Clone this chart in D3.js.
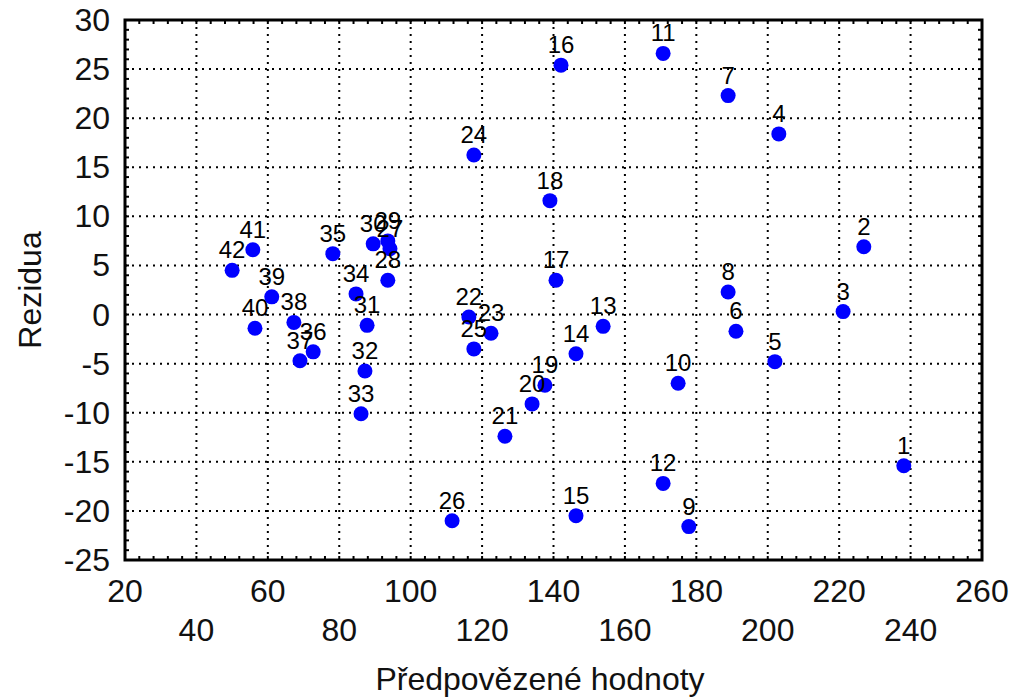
<!DOCTYPE html>
<html><head><meta charset="utf-8">
<script src="https://cdn.jsdelivr.net/npm/d3@7/dist/d3.min.js"></script>
<style>body{margin:0;background:#fff}svg{display:block}text{font-family:"Liberation Sans",Arial,sans-serif}</style>
</head><body><svg id="c" width="1012" height="699"></svg>
<script>
const ids = [1,2,3,4,5,6,7,8,9,10,11,12,13,14,15,16,17,18,19,20,21,22,23,24,25,26,27,28,29,30,31,32,33,34,35,36,37,38,39,40,41,42];
const predicted = [238.1,226.9,221.1,203.1,202.0,191.1,188.9,188.9,177.9,174.9,170.7,170.7,153.9,146.3,146.3,142.1,140.7,139.0,137.6,134.0,126.4,116.3,122.5,117.7,117.7,111.6,94.2,93.6,93.6,89.5,87.8,87.2,86.1,84.7,78.2,72.7,69.0,67.3,61.1,56.4,55.8,50.0];
const residuals = [-15.4,6.9,0.3,18.4,-4.8,-1.7,22.3,2.3,-21.6,-7.0,26.6,-17.2,-1.2,-4.0,-20.5,25.4,3.5,11.6,-7.2,-9.1,-12.4,-0.25,-1.9,16.25,-3.5,-21.0,6.7,3.5,7.5,7.2,-1.1,-5.75,-10.1,2.1,6.2,-3.8,-4.7,-0.8,1.8,-1.4,6.6,4.5];
const xTicks = [20,40,60,80,100,120,140,160,180,200,220,240,260];
const yTicks = [30,25,20,15,10,5,0,-5,-10,-15,-20,-25];
const xTitle = "Předpovězené hodnoty";
const yTitle = "Rezidua";

const svg = d3.select("#c");
const L=125,R=982,T=20,B=560;
const x = d3.scaleLinear().domain([20,260]).range([L,R]);
const y = d3.scaleLinear().domain([-25,30]).range([B,T]);

const g = svg.append("g");
g.selectAll("line.gx").data(xTicks.slice(1,-1)).join("line")
  .attr("x1",d=>x(d)).attr("x2",d=>x(d)).attr("y1",T).attr("y2",B)
  .attr("stroke","#000").attr("stroke-width",2).attr("stroke-dasharray","2,5");
g.selectAll("line.gy").data(yTicks.slice(1,-1)).join("line")
  .attr("y1",d=>y(d)).attr("y2",d=>y(d)).attr("x1",L).attr("x2",R)
  .attr("stroke","#000").attr("stroke-width",2).attr("stroke-dasharray","2,5");

const xm = d3.range(20,260.01,4), ym = d3.range(-25,30.01,1);
const mt = svg.append("g").attr("stroke","#000").attr("stroke-width",2);
xm.forEach(v=>{
  mt.append("line").attr("x1",x(v)).attr("x2",x(v)).attr("y1",B).attr("y2",B-4);
  mt.append("line").attr("x1",x(v)).attr("x2",x(v)).attr("y1",T).attr("y2",T+4);
});
ym.forEach(v=>{
  mt.append("line").attr("y1",y(v)).attr("y2",y(v)).attr("x1",L).attr("x2",L+4);
  mt.append("line").attr("y1",y(v)).attr("y2",y(v)).attr("x1",R).attr("x2",R-4);
});

svg.append("rect").attr("x",L).attr("y",T).attr("width",R-L).attr("height",B-T)
  .attr("fill","none").attr("stroke","#000").attr("stroke-width",3);

svg.append("g").selectAll("text").data(yTicks).join("text")
  .attr("x",110).attr("y",d=>y(d)+11).attr("text-anchor","end")
  .attr("font-size",32).attr("fill","#111").text(d=>d);
svg.append("g").selectAll("text").data(xTicks).join("text")
  .attr("x",d=>x(d)).attr("y",(d,i)=>i%2===0?602:641).attr("text-anchor","middle")
  .attr("font-size",32).attr("fill","#111").text(d=>d);

svg.append("text").attr("x",540).attr("y",690).attr("text-anchor","middle")
  .attr("font-size",32).attr("fill","#111").text(xTitle);
svg.append("text").attr("transform","translate(41,290) rotate(-90)").attr("text-anchor","middle")
  .attr("font-size",32).attr("fill","#111").text(yTitle);

const data = ids.map((id,i)=>({id,px:predicted[i],r:residuals[i]}));
svg.append("g").selectAll("circle").data(data).join("circle")
  .attr("cx",d=>x(d.px)).attr("cy",d=>y(d.r)).attr("r",7.5).attr("fill","#0000ff");
svg.append("g").selectAll("text").data(data).join("text")
  .attr("x",d=>x(d.px)).attr("y",d=>y(d.r)-12).attr("text-anchor","middle")
  .attr("font-size",24).attr("fill","#000").text(d=>d.id);
</script></body></html>
